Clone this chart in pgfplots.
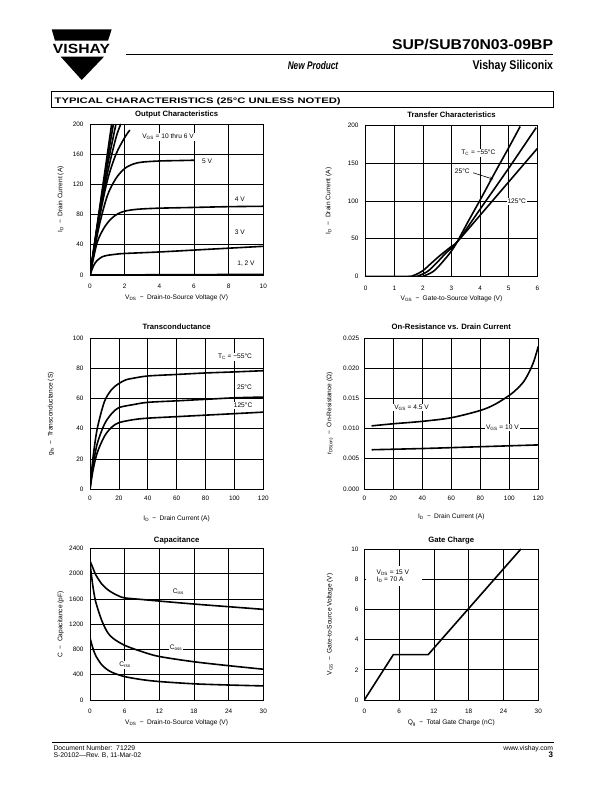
\documentclass[border=0pt]{standalone}
\usepackage{fontspec}
\setmainfont{Liberation Sans}
\usepackage{graphicx}
\usepackage{pgfplots}
\pgfplotsset{compat=1.18}
\newcommand{\fs}[1]{\fontsize{#1}{#1}\selectfont}
\tikzset{lbl/.style={font=\fs{6.6}, fill=white, inner sep=1pt}}
\pgfplotsset{
 ds/.style={
   scale only axis, anchor=south west,
   axis line style={line width=0.8pt},
   grid=major,
   major grid style={black,line width=0.6pt},
   major tick length=0pt,
   tick label style={font=\fs{6.4}},
   label style={font=\fs{6.6}},
   every axis title shift=0pt,
   title style={font=\fs{7.7}\bfseries, at={(0.5,1)}, anchor=base},
   /pgf/number format/assume math mode=true,
   /pgf/number format/1000 sep={},
   scaled ticks=false,
   yticklabel style={xshift=-3pt},
   xticklabel style={yshift=-5.5pt},
   cycle list={{black,mark=none,line width=1.6pt}},
   every axis plot/.append style={line width=1.6pt, black, mark=none},
 },
}
\begin{document}
\begin{tikzpicture}
\fill[white] (0pt,0pt) rectangle (612pt,792pt);
% ---------- header ----------
\fill[black] (51.7pt,762.7pt) -- (111.7pt,762.7pt) -- (108pt,751.3pt) -- (55pt,751.3pt) -- cycle;
\fill[black] (60.7pt,735.3pt) -- (104pt,735.3pt) -- (81.7pt,712pt) -- cycle;
\node[anchor=base, inner sep=0pt] at (81.5pt,738.7pt) {\resizebox{57pt}{9.3pt}{\bfseries VISHAY}};
\draw[line width=1pt] (126pt,737.7pt) -- (553.3pt,737.7pt);
\node[anchor=base east, inner sep=0pt] at (553.3pt,742.7pt) {\resizebox{161pt}{10.3pt}{\bfseries SUP/SUB70N03-09BP}};
\node[anchor=base east, inner sep=0pt] at (553.3pt,722pt) {\resizebox{80.6pt}{9.2pt}{\bfseries Vishay Siliconix}};
\node[anchor=base, inner sep=0pt] at (313pt,722.5pt) {\resizebox{50.5pt}{8pt}{\bfseries\itshape New Product}};
\draw[line width=0.9pt] (51.7pt,701pt) rectangle (553.3pt,684.7pt);
\node[anchor=base west, inner sep=0pt] at (54.5pt,688.7pt) {\resizebox{286pt}{5.8pt}{\bfseries TYPICAL CHARACTERISTICS (25°C UNLESS NOTED)}};
% ---------- footer ----------
\draw[line width=1pt] (51.7pt,49.3pt) -- (554pt,49.3pt);
\node[anchor=base west, inner sep=0pt, font=\fs{6.8}] at (53.3pt,41pt) {Document Number:\ \ 71229};
\node[anchor=base west, inner sep=0pt, font=\fs{6.8}] at (53.3pt,34.7pt) {S-20102—Rev. B, 11-Mar-02};
\node[anchor=base east, inner sep=0pt, font=\fs{6.8}] at (553.3pt,41pt) {www.vishay.com};
\node[anchor=base east, inner sep=0pt, font=\fs{8}\bfseries] at (553.3pt,34.5pt) {3};

% ---------- Plot 1: Output Characteristics ----------
\begin{axis}[ds, at={(90pt,517pt)}, width=173.3pt, height=151pt,
  xmin=0,xmax=10,ymin=0,ymax=200, xtick={0,2,...,10}, ytick={0,40,...,200},
  title={Output Characteristics}, title style={yshift=7pt},
  xlabel={V\textsubscript{DS}\enspace−\enspace Drain-to-Source Voltage (V)},
  ylabel={I\textsubscript{D}\enspace−\enspace Drain Current (A)},
  xlabel style={at={(axis description cs:0.5,-0.150)},anchor=center},
  ylabel style={at={(axis description cs:-0.169,0.5)},anchor=center}]
\addplot[smooth] coordinates {(0,0)(0.5,80)(1.0,160)(1.25,200)};
\addplot[smooth] coordinates {(0,0)(0.5,78)(1.0,152)(1.35,200)};
\addplot[smooth] coordinates {(0,0)(0.5,76)(1.0,144)(1.5,200)};
\addplot[smooth] coordinates {(0,0)(0.5,73)(1.0,134)(1.5,182)(1.78,200)};
\addplot[smooth] coordinates {(0,0)(0.5,70)(1.0,125)(1.5,160)(2.0,182)(2.3,192)};
\addplot[smooth] coordinates {(0,0)(0.5,62)(1.0,105)(1.5,128)(2.0,141)(2.5,147)(3.0,149.5)(4,151)(5,151.5)(6,152)};
\addplot[smooth] coordinates {(0,0)(0.4,42)(0.8,62)(1.2,74)(1.6,81)(2.0,84.5)(2.5,86.5)(3,87.5)(4,88.5)(6,89.5)(8,90.5)(10,91)};
\addplot[smooth] coordinates {(0,0)(0.2,12)(0.4,19)(0.7,24)(1.0,26)(1.5,27.5)(2,28.5)(4,30.5)(6,33)(8,35.5)(10,38)};
\addplot[sharp plot] coordinates {(0,0)(10,0.8)};
\node[lbl] at (axis cs:4.5,183) {V\textsubscript{GS} = 10 thru 6 V};
\node[lbl] at (axis cs:6.75,151) {5 V};
\node[lbl] at (axis cs:8.65,100.5) {4 V};
\node[lbl] at (axis cs:8.65,56.5) {3 V};
\node[lbl] at (axis cs:9.0,15.5) {1, 2 V};
\end{axis}

% ---------- Plot 2: Transfer Characteristics ----------
\begin{axis}[ds, at={(365.7pt,515.3pt)}, width=171.6pt, height=151.7pt,
  xmin=0,xmax=6,ymin=0,ymax=200, xtick={0,1,...,6}, ytick={0,50,...,200},
  title={Transfer Characteristics}, title style={yshift=7.7pt},
  xlabel={V\textsubscript{GS}\enspace−\enspace Gate-to-Source Voltage (V)},
  ylabel={I\textsubscript{D}\enspace−\enspace Drain Current (A)},
  yticklabel style={xshift=-0.7pt},
  xlabel style={at={(axis description cs:0.5,-0.143)},anchor=center},
  ylabel style={at={(axis description cs:-0.216,0.5)},anchor=center}]
\addplot[smooth] coordinates {(0,0)(1.8,0)(2.1,2)(2.4,8)(2.7,20)(3.0,34)(3.2,46)(3.6,74)(4,101)(4.5,136)(5,170)(5.4,198)};
\addplot[smooth] coordinates {(0,0)(1.6,0)(1.9,2)(2.2,8)(2.5,19)(2.8,31)(3.2,46)(4,89)(5,143)(5.96,196.5)};
\addplot[smooth] coordinates {(0,0)(1.4,0)(1.7,2)(2.0,8)(2.3,18)(2.6,28)(3.0,40)(3.2,46)(4,81)(5,125)(6,169)};
\node[lbl] at (axis cs:3.94,163.5) {T\textsubscript{C} = −55°C};
\node[lbl] at (axis cs:3.38,139) {25°C};
\draw[->, line width=0.6pt, >=stealth] (axis cs:3.76,137) -- (axis cs:4.46,128.5);
\node[lbl] at (axis cs:5.28,99) {125°C};
\end{axis}

% ---------- Plot 3: Transconductance ----------
\begin{axis}[ds, at={(90pt,303pt)}, width=173.3pt, height=150.7pt,
  xmin=0,xmax=120,ymin=0,ymax=100, xtick={0,20,...,120}, ytick={0,20,...,100},
  title={Transconductance}, title style={yshift=9pt},
  xlabel={I\textsubscript{D}\enspace−\enspace Drain Current (A)},
  ylabel={g\textsubscript{fs}\enspace−\enspace Transconductance (S)},
  xticklabel style={yshift=2pt},
  xlabel style={at={(axis description cs:0.5,-0.200)},anchor=center},
  ylabel style={at={(axis description cs:-0.225,0.5)},anchor=center}]
\addplot[smooth] coordinates {(0,0)(2,20)(5,40)(10,58)(15,66)(20,70)(25,72.5)(30,73.5)(40,75)(60,76)(80,77)(100,77.7)(120,78.5)};
\addplot[smooth] coordinates {(0,0)(2,15)(5,30)(10,43)(15,50)(20,54)(30,56)(40,57.5)(60,58.5)(80,59.5)(100,60.5)(120,61)};
\addplot[smooth] coordinates {(0,0)(2,12)(5,24)(10,35)(15,41)(20,44)(30,46)(40,47)(60,48)(80,49)(100,50)(120,51)};
\node[lbl] at (axis cs:100.4,87.8) {T\textsubscript{C} = −55°C};
\node[lbl] at (axis cs:107,67.3) {25°C};
\node[lbl] at (axis cs:106,55.5) {125°C};
\end{axis}

% ---------- Plot 4: On-Resistance ----------
\begin{axis}[ds, at={(364.3pt,303pt)}, width=174pt, height=151pt,
  xmin=0,xmax=120,ymin=0,ymax=0.025, xtick={0,20,...,120}, ytick={0,0.005,0.010,0.015,0.020,0.025},
  yticklabel style={/pgf/number format/fixed,/pgf/number format/fixed zerofill,/pgf/number format/precision=3},
  yticklabel style={xshift=1.4pt},
  title={On-Resistance vs. Drain Current}, title style={yshift=8.7pt},
  xlabel={I\textsubscript{D}\enspace−\enspace Drain Current (A)},
  ylabel={r\textsubscript{DS(on)}\enspace−\enspace On-Resistance (Ω)},
  xticklabel style={yshift=2pt},
  xlabel style={at={(axis description cs:0.5,-0.183)},anchor=center},
  ylabel style={at={(axis description cs:-0.197,0.5)},anchor=center}]
\addplot[smooth] coordinates {(5,0.01045)(20,0.0108)(40,0.0112)(60,0.0118)(80,0.0130)(90,0.0140)(100,0.0155)(105,0.0165)(110,0.0178)(114,0.0195)(117,0.0212)(120,0.0236)};
\addplot[smooth] coordinates {(5,0.0065)(40,0.0067)(80,0.0070)(120,0.0073)};
\node[lbl] at (axis cs:32.6,0.0135) {V\textsubscript{GS} = 4.5 V};
\node[lbl] at (axis cs:95.2,0.0102) {V\textsubscript{GS} = 10 V};
\end{axis}

% ---------- Plot 5: Capacitance ----------
\begin{axis}[ds, at={(90pt,92pt)}, width=173.3pt, height=151.7pt,
  xmin=0,xmax=30,ymin=0,ymax=2400, xtick={0,6,...,30}, ytick={0,400,...,2400},
  title={Capacitance}, title style={yshift=5.6pt},
  xlabel={V\textsubscript{DS}\enspace−\enspace Drain-to-Source Voltage (V)},
  ylabel={C\enspace−\enspace Capacitance (pF)},
  xlabel style={at={(axis description cs:0.5,-0.150)},anchor=center},
  ylabel style={at={(axis description cs:-0.169,0.5)},anchor=center}]
\addplot[smooth] coordinates {(0,2200)(0.5,2090)(1,1980)(2,1840)(3,1750)(4,1690)(5,1645)(6,1615)(9,1590)(12,1565)(18,1518)(24,1476)(30,1434)};
\addplot[smooth] coordinates {(0,2160)(0.5,1800)(1,1550)(2,1266)(3,1075)(4,975)(6,865)(9,765)(12,688)(18,605)(24,543)(30,487)};
\addplot[smooth] coordinates {(0,980)(0.5,820)(1,700)(2,560)(3,480)(4,430)(6,370)(9,322)(12,292)(18,256)(24,237)(30,223)};
\node[lbl] at (axis cs:15.3,1714) {C\textsubscript{iss}};
\node[lbl] at (axis cs:14.9,828) {C\textsubscript{oss}};
\node[lbl] at (axis cs:6.06,554) {C\textsubscript{rss}};
\end{axis}

% ---------- Plot 6: Gate Charge ----------
\begin{axis}[ds, at={(364.3pt,92pt)}, width=174pt, height=151pt,
  xmin=0,xmax=30,ymin=0,ymax=10, xtick={0,6,...,30}, ytick={0,2,...,10},
  yticklabel style={xshift=0.7pt},
  title={Gate Charge}, title style={yshift=6.3pt},
  xlabel={Q\textsubscript{g}\enspace−\enspace Total Gate Charge (nC)},
  ylabel={V\textsubscript{GS}\enspace−\enspace Gate-to-Source Voltage (V)},
  xlabel style={at={(axis description cs:0.5,-0.154)},anchor=center},
  ylabel style={at={(axis description cs:-0.197,0.5)},anchor=center}]
\addplot[sharp plot] coordinates {(0,0)(5,3)(11,3)(27,10)};
\fill[white] (axis cs:0.3,7.55) rectangle (axis cs:9.9,8.85);
\node[anchor=west, inner sep=0pt, font=\fs{6.6}] at (axis cs:2.1,8.42) {V\textsubscript{DS} = 15 V};
\node[anchor=west, inner sep=0pt, font=\fs{6.6}] at (axis cs:2.1,8.0) {I\textsubscript{D} = 70 A};
\end{axis}
\end{tikzpicture}
\end{document}
